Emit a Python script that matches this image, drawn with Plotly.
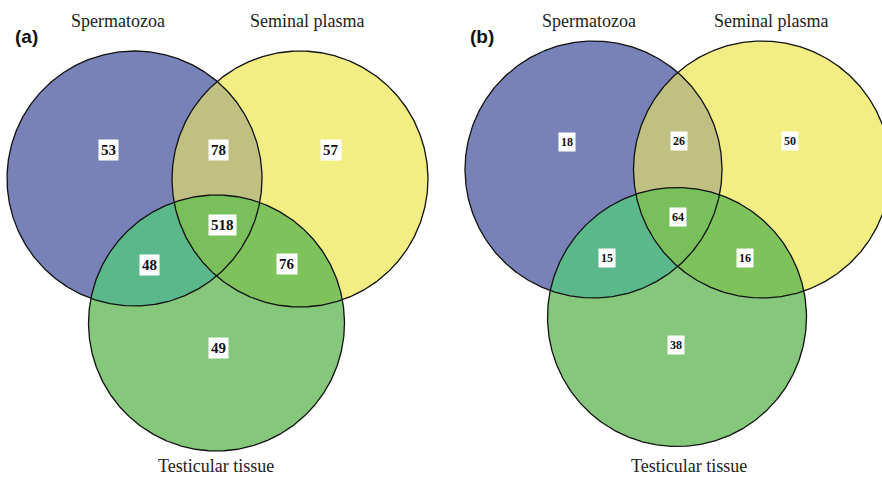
import numpy as np
import plotly.graph_objects as go

# Set names and region counts for the two three-way Venn diagrams
set_names = ["Spermatozoa", "Seminal plasma", "Testicular tissue"]
panel_tags = ["(a)", "(b)"]
# region order: S only, S∩P, P only, S∩P∩T, S∩T, P∩T, T only
region_keys = ["S", "SP", "P", "SPT", "ST", "PT", "T"]
counts_a = [53, 78, 57, 518, 48, 76, 49]
counts_b = [18, 26, 50, 64, 15, 16, 38]

W, H = 882, 477

# Circle layout (pixel-space coordinates, y downward) for each panel
panels = [
    dict(tag=panel_tags[0], counts=counts_a, font=15, pad=2,
         circles={"S": (134.5, 178.5, 127.5), "P": (300.0, 179.0, 128.0), "T": (216.5, 323.0, 128.0)},
         tagpos=(26, 36),
         namepos=[(118, 21), (307, 21), (216, 466)],
         labpos={"S": (108, 150), "SP": (218, 150), "P": (331, 150), "SPT": (222, 225),
                 "ST": (149, 265), "PT": (287, 264), "T": (218, 348)}),
    dict(tag=panel_tags[1], counts=counts_b, font=12, pad=2,
         circles={"S": (593.5, 169.5, 128.5), "P": (762.0, 169.5, 128.5), "T": (677.0, 317.0, 129.5)},
         tagpos=(482, 36),
         namepos=[(589, 21), (771, 21), (689, 466)],
         labpos={"S": (567, 142), "SP": (679, 141), "P": (790, 141), "SPT": (678, 217),
                 "ST": (607, 258), "PT": (745, 258), "T": (676, 345)}),
]

fill_colors = {
    "S": "#7882b9",
    "P": "#f2ee84",
    "SP": "#c1c083",
    "T": "#85c77b",
    "ST": "#5bb88a",
    "PT": "#7dc25a",
    "SPT": "#79c05c",
}


def circle_pts(cx, cy, r, n=1440):
    t = np.linspace(0, 2 * np.pi, n, endpoint=False)
    return cx + r * np.cos(t), cy + r * np.sin(t)


def intersection_polygon(circs):
    """Convex region shared by all given circles, as an ordered polygon."""
    xs, ys = [], []
    for i, (cx, cy, r) in enumerate(circs):
        px, py = circle_pts(cx, cy, r)
        keep = np.ones_like(px, dtype=bool)
        for j, (ox, oy, orr) in enumerate(circs):
            if j != i:
                keep &= (px - ox) ** 2 + (py - oy) ** 2 <= orr ** 2 + 1e-6
        xs.append(px[keep])
        ys.append(py[keep])
    xs = np.concatenate(xs)
    ys = np.concatenate(ys)
    mx, my = xs.mean(), ys.mean()
    order = np.argsort(np.arctan2(ys - my, xs - mx))
    xs, ys = xs[order], ys[order]
    return np.append(xs, xs[0]), np.append(ys, ys[0])


fig = go.Figure()
annotations = []

for p in panels:
    C = p["circles"]
    # painter's order: later regions overlay the earlier ones
    layers = ["S", "P", "SP", "T", "ST", "PT", "SPT"]
    for key in layers:
        members = [k for k in "SPT" if k in key]
        x, y = intersection_polygon([C[m] for m in members])
        fig.add_trace(go.Scatter(x=x, y=y, mode="lines", fill="toself",
                                 fillcolor=fill_colors[key], line=dict(width=0),
                                 hoverinfo="skip", showlegend=False))
    # circle outlines
    for k in "SPT":
        x, y = circle_pts(*C[k], n=720)
        fig.add_trace(go.Scatter(x=np.append(x, x[0]), y=np.append(y, y[0]), mode="lines",
                                 line=dict(color="#111111", width=1.3),
                                 hoverinfo="skip", showlegend=False))

    # region counts in white boxes
    for key, val in zip(region_keys, p["counts"]):
        lx, ly = p["labpos"][key]
        annotations.append(dict(x=lx, y=ly, xref="x", yref="y", text=f"<b>{val}</b>",
                                showarrow=False, bgcolor="white", borderpad=p["pad"],
                                font=dict(family="Liberation Serif", size=p["font"], color="#111111")))
    # set names
    for name, (nx, ny) in zip(set_names, p["namepos"]):
        annotations.append(dict(x=nx, y=ny, xref="x", yref="y", text=name, showarrow=False,
                                font=dict(family="Liberation Serif", size=18, color="#222222")))
    # panel tag
    tx, ty = p["tagpos"]
    annotations.append(dict(x=tx, y=ty, xref="x", yref="y", text=f"<b>{p['tag']}</b>",
                            showarrow=False,
                            font=dict(family="Liberation Sans", size=19, color="#111111")))

fig.update_layout(
    width=W, height=H,
    margin=dict(l=0, r=0, t=0, b=0),
    paper_bgcolor="white", plot_bgcolor="white",
    annotations=annotations,
    xaxis=dict(range=[0, W], visible=False, fixedrange=True),
    yaxis=dict(range=[H, 0], visible=False, fixedrange=True),
    showlegend=False,
)

fig.write_html("out.html")
